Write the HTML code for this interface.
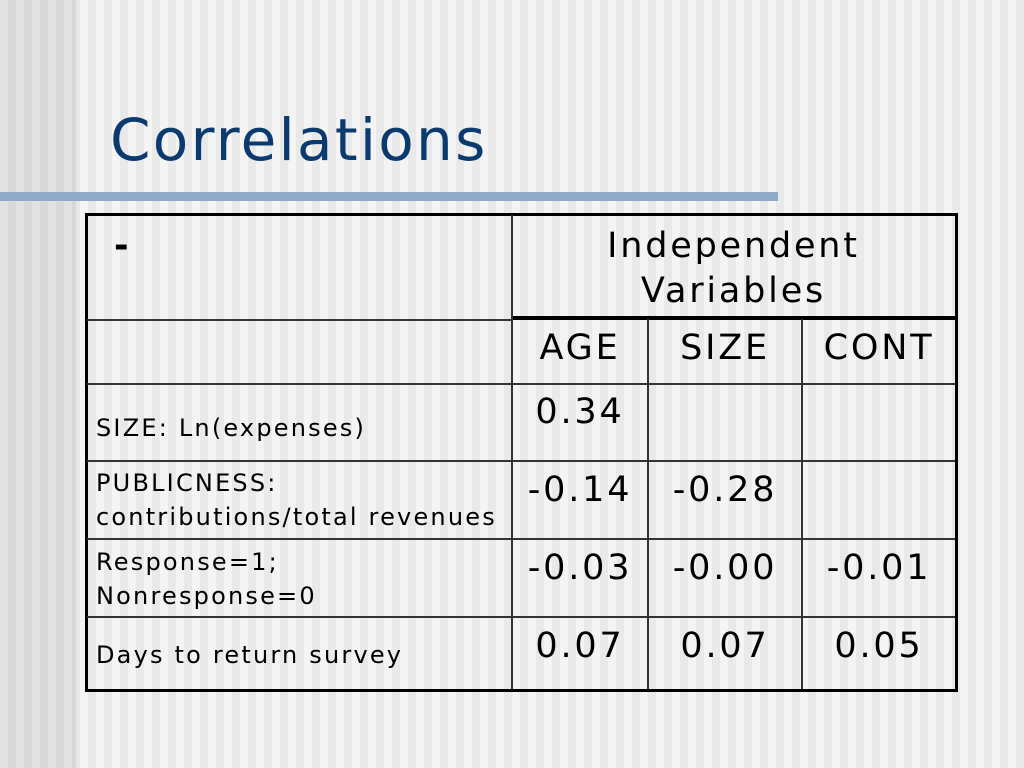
<!DOCTYPE html>
<html><head><meta charset="utf-8"><style>
body{margin:0;width:1024px;height:768px;overflow:hidden;position:relative;font-family:"DejaVu Sans","Liberation Sans",sans-serif;
background:repeating-linear-gradient(90deg,#f4f4f4 0,#f4f4f4 8px,#e9e9e9 8px,#e9e9e9 16px);}
#left{position:absolute;left:0;top:0;width:76px;height:768px;background:repeating-linear-gradient(90deg,#e2e2e2 0,#e2e2e2 8px,#d8d8d8 8px,#d8d8d8 16px);}
.t{position:absolute;color:#000;}
.h{position:absolute;background:#333;height:2px;}
.v{position:absolute;background:#333;width:2px;}
.c{position:absolute;text-align:center;font-size:35px;letter-spacing:2.8px;}
.l{position:absolute;font-size:24px;line-height:34px;left:96px;letter-spacing:2.2px;}
</style></head><body>
<div id="left"></div>
<div class="t" style="left:110px;top:106px;font-size:58px;color:#0b3a6e;letter-spacing:2.3px;">Correlations</div>
<div style="position:absolute;left:0;top:192px;width:778px;height:9px;background:#8fa9c8;"></div>
<div style="position:absolute;left:85px;top:213px;width:867px;height:473px;border:3px solid #000;"></div>
<div class="h" style="left:512px;top:316px;width:443px;height:4px;background:#000"></div>
<div class="h" style="left:87px;top:319px;width:425px"></div>
<div class="h" style="left:87px;top:383px;width:868px"></div>
<div class="h" style="left:87px;top:460px;width:868px"></div>
<div class="h" style="left:87px;top:538px;width:868px"></div>
<div class="h" style="left:87px;top:616px;width:868px"></div>
<div class="v" style="left:511px;top:215px;height:474px"></div>
<div class="v" style="left:647px;top:319px;height:370px"></div>
<div class="v" style="left:801px;top:319px;height:370px"></div>
<div class="c" style="left:114px;top:226px;font-weight:bold;">-</div>
<div class="c" style="left:512px;top:224px;width:443px;line-height:45px;">Independent<br>Variables</div>
<div class="c" style="left:512px;top:328px;width:136px;">AGE</div>
<div class="c" style="left:648px;top:328px;width:154px;">SIZE</div>
<div class="c" style="left:802px;top:328px;width:154px;">CONT</div>
<div class="l" style="top:411px;">SIZE: Ln(expenses)</div>
<div class="l" style="top:466px;">PUBLICNESS:<br>contributions/total revenues</div>
<div class="l" style="top:545px;">Response=1;<br>Nonresponse=0</div>
<div class="l" style="top:638px;">Days to return survey</div>
<div class="c" style="left:512px;top:392px;width:136px;">0.34</div>
<div class="c" style="left:512px;top:470px;width:136px;">-0.14</div>
<div class="c" style="left:648px;top:470px;width:154px;">-0.28</div>
<div class="c" style="left:512px;top:548px;width:136px;">-0.03</div>
<div class="c" style="left:648px;top:548px;width:154px;">-0.00</div>
<div class="c" style="left:802px;top:548px;width:154px;">-0.01</div>
<div class="c" style="left:512px;top:626px;width:136px;">0.07</div>
<div class="c" style="left:648px;top:626px;width:154px;">0.07</div>
<div class="c" style="left:802px;top:626px;width:154px;">0.05</div>
</body></html>
